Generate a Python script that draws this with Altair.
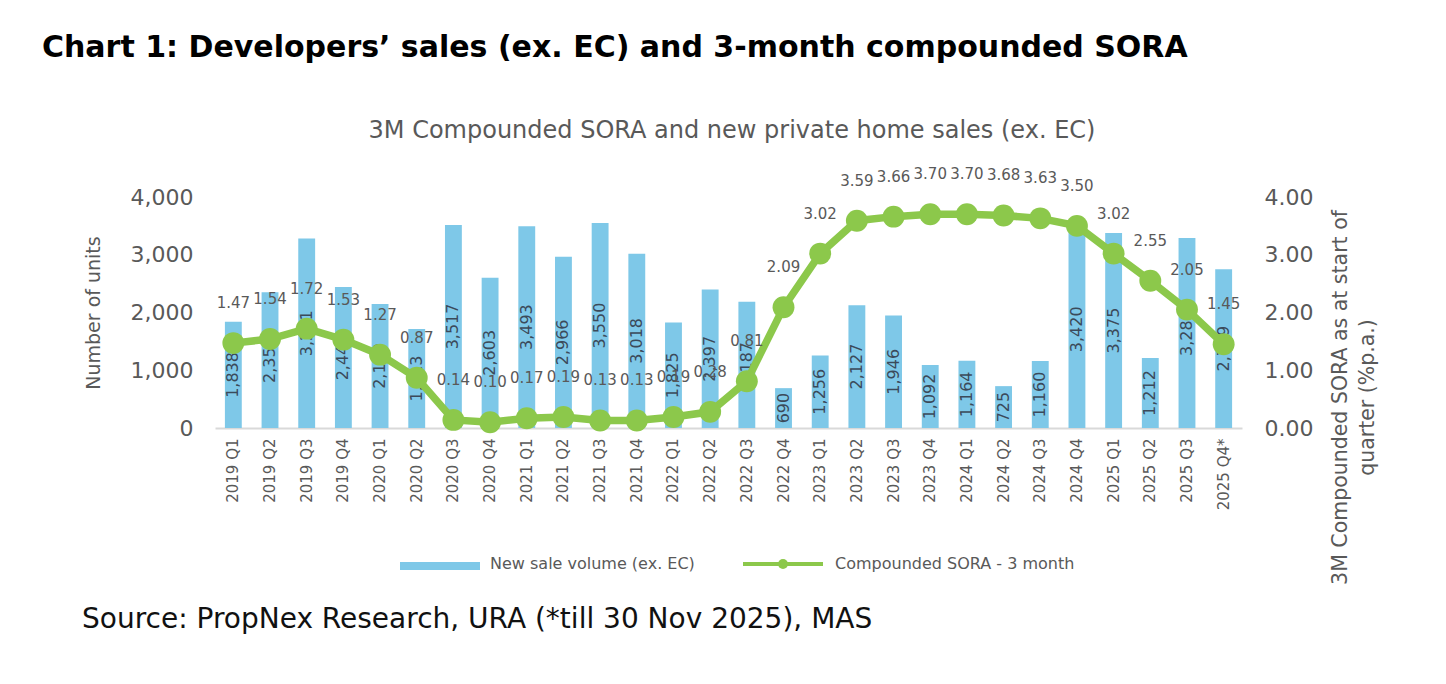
import altair as alt
import pandas as pd

quarters = ["2019 Q1", "2019 Q2", "2019 Q3", "2019 Q4", "2020 Q1", "2020 Q2", "2020 Q3", "2020 Q4",
            "2021 Q1", "2021 Q2", "2021 Q3", "2021 Q4", "2022 Q1", "2022 Q2", "2022 Q3", "2022 Q4",
            "2023 Q1", "2023 Q2", "2023 Q3", "2023 Q4", "2024 Q1", "2024 Q2", "2024 Q3", "2024 Q4",
            "2025 Q1", "2025 Q2", "2025 Q3", "2025 Q4*"]
sales = [1838, 2350, 3281, 2443, 2149, 1713, 3517, 2603, 3493, 2966, 3550, 3018, 1825, 2397,
         2187, 690, 1256, 2127, 1946, 1092, 1164, 725, 1160, 3420, 3375, 1212, 3288, 2749]
sora = [1.47, 1.54, 1.72, 1.53, 1.27, 0.87, 0.14, 0.10, 0.17, 0.19, 0.13, 0.13, 0.19, 0.28,
        0.81, 2.09, 3.02, 3.59, 3.66, 3.70, 3.70, 3.68, 3.63, 3.50, 3.02, 2.55, 2.05, 1.45]

title_text = "Chart 1: Developers\u2019 sales (ex. EC) and 3-month compounded SORA"
subtitle_text = "3M Compounded SORA and new private home sales (ex. EC)"
source_text = "Source: PropNex Research, URA (*till 30 Nov 2025), MAS"
legend_bar = "New sale volume (ex. EC)"
legend_line = "Compounded SORA - 3 month"
left_title = "Number of units"
right_title = ["3M Compounded SORA as at start of", "quarter (%p.a.)"]

df = pd.DataFrame({"q": quarters, "sales": sales, "sora": sora})

FONT = "DejaVu Sans"
GRAY = "#595959"
BLUE = "#7ec8e8"
GREEN = "#8cc84b"

PL, PT = 215, 197
W, H = 1027, 231

xenc = alt.X("q:N", sort=quarters,
             scale=alt.Scale(paddingInner=0.54, paddingOuter=0.27),
             axis=alt.Axis(title=None, labelAngle=270, labelFont=FONT, labelFontSize=15,
                           labelColor=GRAY, ticks=False, domainColor="#d9d9d9",
                           domainWidth=2, labelPadding=10))

left_axis = alt.Axis(title=left_title, values=[0, 1000, 2000, 3000, 4000], format=",.0f",
                     labelFont=FONT, labelFontSize=22, labelColor=GRAY,
                     titleFont=FONT, titleFontSize=19, titleColor=GRAY,
                     titleFontWeight="normal", titleX=-122, titleY=H / 2,
                     titleAngle=270, titleAlign="center", titleBaseline="middle",
                     domain=False, ticks=False, grid=False, labelPadding=22)
right_axis = alt.Axis(orient="right", title=right_title, values=[0, 1, 2, 3, 4], format=".2f",
                      labelFont=FONT, labelFontSize=22, labelColor=GRAY,
                      titleFont=FONT, titleFontSize=20.5, titleColor=GRAY,
                      titleFontWeight="normal", titleAngle=270, titleX=98, titleY=200,
                      titleAlign="center", titleBaseline="middle", titleLineHeight=27,
                      domain=False, ticks=False, grid=False, labelPadding=22)

lscale = alt.Scale(domain=[0, 4000])
rscale = alt.Scale(domain=[0, 4])

base = alt.Chart(df)

bars = base.mark_bar(color=BLUE).encode(
    x=xenc,
    y=alt.Y("sales:Q", scale=lscale, axis=left_axis),
)

bar_labels = base.transform_calculate(mid="datum.sales / 2").mark_text(
    angle=270, font=FONT, fontSize=16, color="#3b4a5a", align="center", baseline="middle"
).encode(
    x=alt.X("q:N", sort=quarters),
    y=alt.Y("mid:Q", scale=lscale, axis=left_axis),
    text=alt.Text("sales:Q", format=","),
)

left = alt.layer(bars, bar_labels)

yr = alt.Y("sora:Q", scale=rscale, axis=right_axis)

line = base.mark_line(color=GREEN, strokeWidth=7.5).encode(x=alt.X("q:N", sort=quarters), y=yr)
pts = base.mark_point(filled=True, color=GREEN, size=480, opacity=1).encode(
    x=alt.X("q:N", sort=quarters), y=yr)
sora_labels = base.mark_text(font=FONT, fontSize=15, color=GRAY, dy=-40, baseline="middle").encode(
    x=alt.X("q:N", sort=quarters), y=yr,
    text=alt.Text("sora:Q", format=".2f"))

right = alt.layer(line, pts, sora_labels)

one = alt.Data(values=[{"a": 1}])


def txt(s, x, y, size, color, weight="normal", align="left"):
    return alt.Chart(one).mark_text(text=s, font=FONT, fontSize=size, color=color,
                                    fontWeight=weight, align=align, baseline="middle").encode(
        x=alt.value(x - PL), y=alt.value(y - PT))


deco = alt.layer(
    txt(title_text, 42, 48, 30, "#000000", weight="bold"),
    txt(subtitle_text, 732, 131, 24, GRAY, align="center"),
    txt(source_text, 82, 620, 28, "#111111"),
    alt.Chart(one).mark_rect(color=BLUE).encode(
        x=alt.value(400 - PL), x2=alt.value(480 - PL), y=alt.value(562 - PT), y2=alt.value(570 - PT)),
    txt(legend_bar, 490, 564, 16, GRAY),
    alt.Chart(one).mark_rule(color=GREEN, strokeWidth=4).encode(
        x=alt.value(743 - PL), x2=alt.value(823 - PL), y=alt.value(564 - PT)),
    alt.Chart(one).mark_point(filled=True, color=GREEN, size=100, opacity=1).encode(
        x=alt.value(783 - PL), y=alt.value(564 - PT)),
    txt(legend_line, 835, 564, 16, GRAY),
)

chart = alt.layer(left, right, deco).resolve_scale(y="independent").properties(
    width=W, height=H,
    autosize=alt.AutoSizeParams(type="none"),
    padding={"left": PL, "top": PT, "right": 1446 - PL - W, "bottom": 684 - PT - H},
    background="white",
).configure_view(stroke=None)

chart.save("out.html", embed_options={"renderer": "svg", "actions": False})
